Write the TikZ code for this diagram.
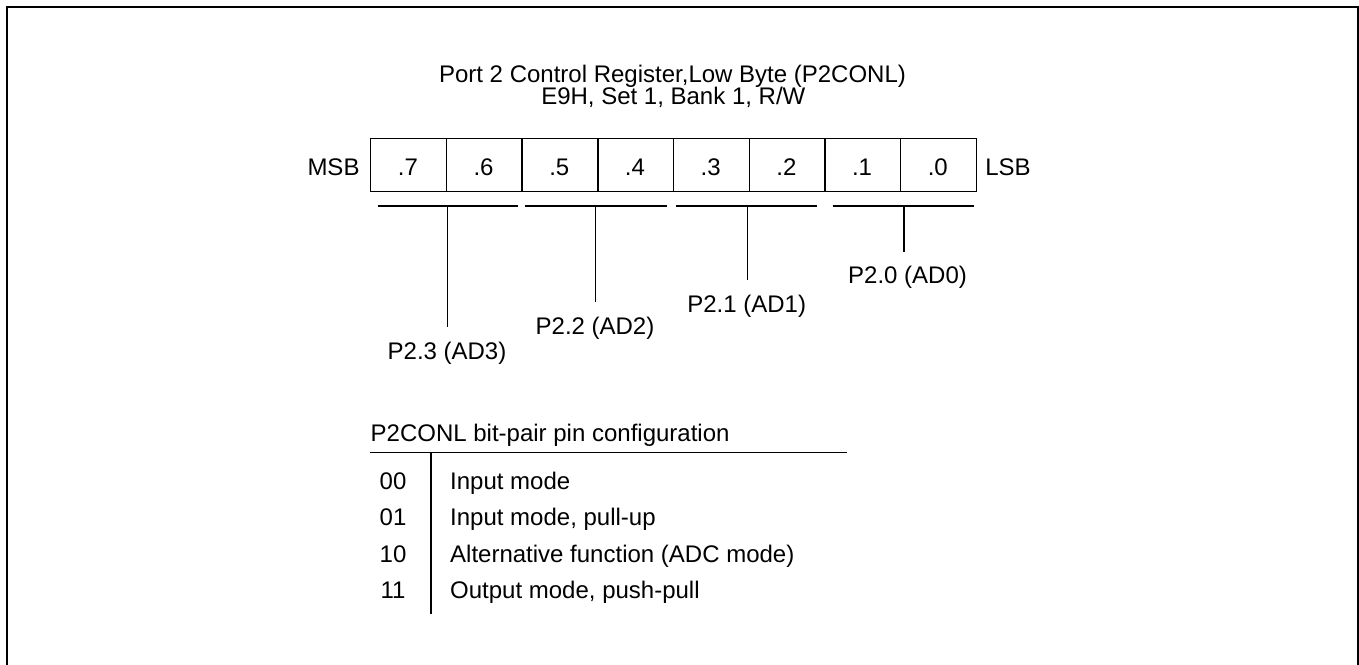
\documentclass[tikz,border=0pt]{standalone}
\usepackage{fontspec}
\setmainfont{Liberation Sans}
\begin{document}
\begin{tikzpicture}[x=1pt,y=-1pt,
  every node/.style={font=\fontsize{24}{24}\selectfont, inner sep=0pt},
  ln/.style={line width=1.4pt},
  cell/.style={draw, line width=1.4pt, minimum width=75.7pt, minimum height=53pt, anchor=north west},
  txt/.style={anchor=base},
  pinlabel/.style={anchor=base, text height=16pt, text depth=5pt, inner ysep=16pt},
]
\useasboundingbox (0,0) rectangle (1359,664);
% frame (bottom edge cut off)
\draw[line width=2.4pt] (6.7,670) -- (6.7,6.7) -- (1357.8,6.7) -- (1357.8,670);

% title
\node[txt] (title1) at (672.5,82.5) {Port 2 Control Register,Low Byte (P2CONL)};
\node[txt] (title2) at (673.3,104) {E9H, Set 1, Bank 1, R/W};

% register cells
\foreach \b [count=\i from 0] in {7,6,5,4,3,2,1,0} {
  \node[cell] (c\b) at ({370+75.7*\i},138) {};
  \node[txt] (t\b) at ({370+75.7*\i+37.85},175.2) {.\b};
}
\node[txt] (msb) at (333.5,175.2) {MSB};
\node[txt] (lsb) at (1008,175.2) {LSB};

% group bars
\coordinate (b3l) at (377.7,206); \coordinate (b3r) at (518.3,206);
\coordinate (b2l) at (525,206);   \coordinate (b2r) at (666.7,206);
\coordinate (b1l) at (676,206);   \coordinate (b1r) at (817,206);
\coordinate (b0l) at (832.7,206); \coordinate (b0r) at (974,206);
\draw[ln] (b3l) -- (b3r);
\draw[ln] (b2l) -- (b2r);
\draw[ln] (b1l) -- (b1r);
\draw[ln] (b0l) -- (b0r);
\coordinate (s3) at (447.7,206);
\coordinate (s2) at (595.7,206);
\coordinate (s1) at (747.3,206);
\coordinate (s0) at (904,206);

% pin labels
\node[pinlabel] (p3) at (447,359.5) {P2.3 (AD3)};
\node[pinlabel] (p2) at (595,334) {P2.2 (AD2)};
\node[pinlabel] (p1) at (746.7,312.5) {P2.1 (AD1)};
\node[pinlabel] (p0) at (907.5,283.8) {P2.0 (AD0)};
\draw[ln] (s3) -- (s3 |- p3.north);
\draw[ln] (s2) -- (s2 |- p2.north);
\draw[ln] (s1) -- (s1 |- p1.north);
\draw[ln] (s0) -- (s0 |- p0.north);

% configuration table
\node[anchor=base west] (ttitle) at (370.5,441) {P2CONL bit-pair pin configuration};
\coordinate (rl) at (370,452.7);
\coordinate (rr) at (847,452.7);
\draw[ln] (rl) -- (rr);
\coordinate (vt) at (431,452.7);
\coordinate (vb) at (431,614);
\draw[ln] (vt) -- (vb);
\foreach \c/\d/\y in {00/Input mode/489.3, 01/{Input mode, pull-up}/525.8, 10/Alternative function (ADC mode)/562.3, 11/{Output mode, push-pull}/598.8} {
  \node[txt] (code\c) at (393,\y) {\c};
  \node[anchor=base west] (desc\c) at (450,\y) {\d};
}
\end{tikzpicture}
\end{document}
